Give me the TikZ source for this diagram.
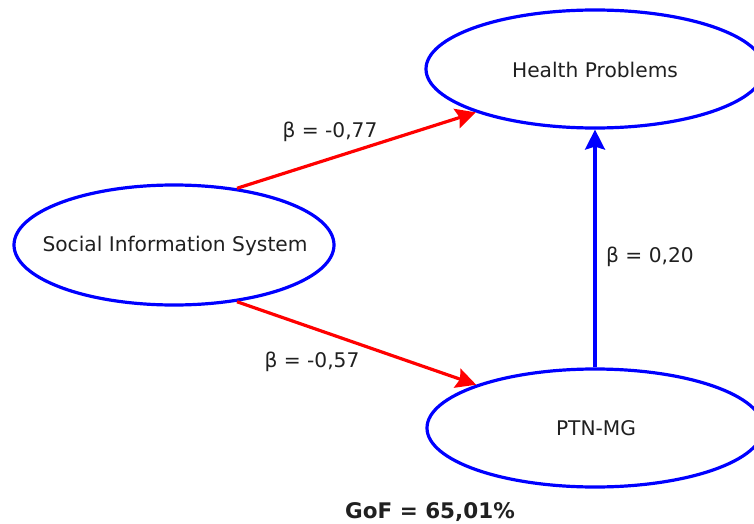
\documentclass[tikz,border=0pt]{standalone}
\usepackage{fontspec}
\setmainfont{DejaVu Sans}
\usetikzlibrary{shapes.geometric,arrows.meta}
\definecolor{txt}{HTML}{202020}
\begin{document}
\begin{tikzpicture}[x=1pt,y=-1pt,
  construct/.style={ellipse, draw=blue, line width=3.2pt, inner sep=0pt},
  lbl/.style={text=txt, font=\fontsize{20.2}{24}\selectfont, inner sep=0pt},
  tip/.style={-{Stealth[length=20pt,width=20pt,inset=3pt]}},
  negpath/.style={tip, draw=red, fill=red, line width=3.2pt},
  pospath/.style={tip, draw=blue, fill=blue, line width=3.2pt}]
\useasboundingbox (0,0) rectangle (754,524);
\node[construct, minimum width=320pt, minimum height=120pt] (sis) at (174,245) {};
\node[construct, minimum width=338pt, minimum height=118pt] (hp) at (595,69) {};
\node[construct, minimum width=336pt, minimum height=118pt] (ptn) at (595,428) {};
\node[lbl] (sist) at (175,246) {Social Information System};
\node[lbl] (hpt) at (595,70) {Health Problems};
\node[lbl] (ptnt) at (596,428) {PTN-MG};
\draw[negpath] (sis.42.6) -- (hp.200);
\draw[negpath] (sis.-42.6) -- (ptn.160.4);
\draw[pospath] (ptn.north) -- (hp.south);
\node[lbl] (b1) at (330,132) {β = -0,77};
\node[lbl] (b2) at (312,362) {β = -0,57};
\node[lbl] (b3) at (650,257) {β = 0,20};
\node[lbl, font=\fontsize{21.5}{25}\selectfont\bfseries] (gof) at (430,512) {GoF = 65,01\%};
\end{tikzpicture}
\end{document}
